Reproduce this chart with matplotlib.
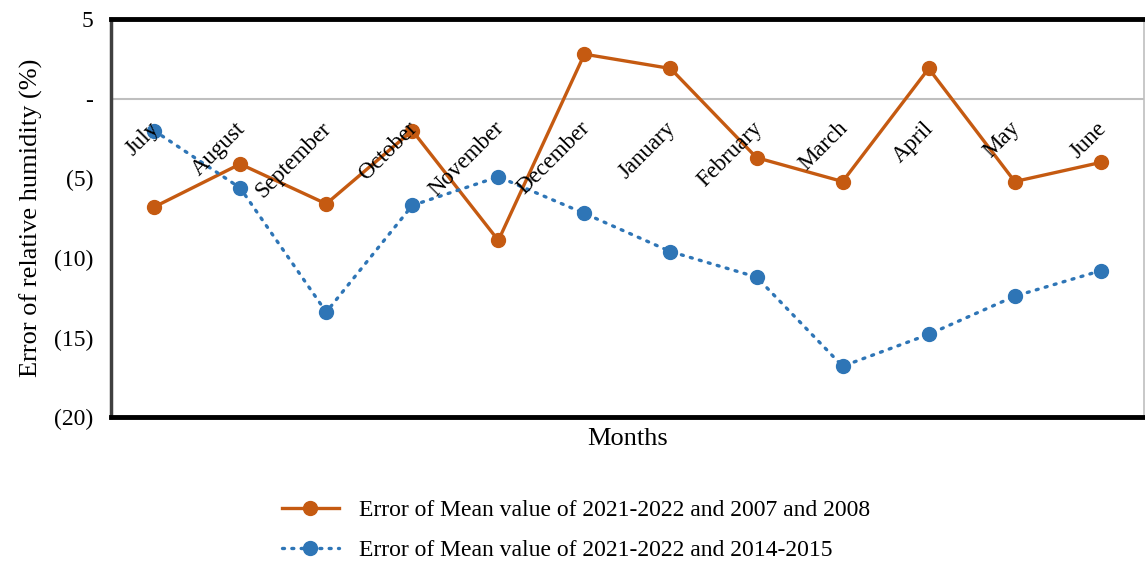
import numpy as np
import matplotlib.pyplot as plt
from matplotlib.ticker import FixedLocator, FixedFormatter

plt.rcParams['font.family'] = ['Liberation Serif', 'DejaVu Serif']

# Monthly humidity errors (%)
months = ['July', 'August', 'September', 'October', 'November', 'December',
          'January', 'February', 'March', 'April', 'May', 'June']
err_2007_2008 = [-6.8, -4.1, -6.6, -2.0, -8.9, 2.8, 1.9, -3.7, -5.2, 1.9, -5.2, -4.0]
err_2014_2015 = [-2.0, -5.6, -13.4, -6.7, -4.9, -7.2, -9.6, -11.2, -16.8, -14.8, -12.4, -10.8]

yticks = [5, 0, -5, -10, -15, -20]
ytick_labels = ['5', '-', '(5)', '(10)', '(15)', '(20)']

orange = '#C55A11'
blue = '#2E75B6'

fig = plt.figure(figsize=(11.45, 5.63), dpi=100)
ax = fig.add_axes([0.097, 0.259, 0.902, 0.707])

x = np.arange(len(months))
ax.axhline(0, color='#BFBFBF', lw=1.5, zorder=1)

ax.plot(x, err_2007_2008, color=orange, lw=2.4, marker='o', markersize=10,
        label='Error of Mean value of 2021-2022 and 2007 and 2008', zorder=3)
ax.plot(x, err_2014_2015, color=blue, lw=2.4, linestyle=(0, (0.6, 2.2)),
        dash_capstyle='round', marker='o', markersize=10,
        label='Error of Mean value of 2021-2022 and 2014-2015', zorder=3)

ax.set_xlim(-0.5, len(months) - 0.5)
ax.set_ylim(-20, 5)
ax.yaxis.set_major_locator(FixedLocator(yticks))
ax.yaxis.set_major_formatter(FixedFormatter(ytick_labels))
ax.tick_params(axis='y', length=0, pad=13, labelsize=17)
ax.set_xticks([])

# month names sit just under the zero line
for i, m in enumerate(months):
    ax.text(i - 0.06, -1.2, m, rotation=45, rotation_mode='anchor',
            ha='right', va='top', fontsize=16.5, zorder=4)

ax.set_ylabel('Error of relative humidity (%)', fontsize=19, labelpad=8)
ax.set_xlabel('Months', fontsize=19, labelpad=8)

for side in ['top', 'bottom']:
    ax.spines[side].set_linewidth(3.5)
    ax.spines[side].set_color('black')
ax.spines['left'].set_linewidth(2.5)
ax.spines['left'].set_color('#404040')
ax.spines['right'].set_linewidth(1.2)
ax.spines['right'].set_color('#BFBFBF')

fig.legend(loc='lower center', bbox_to_anchor=(0.503, -0.035), ncol=1,
           frameon=False, fontsize=17, handlelength=2.4, handletextpad=0.85,
           labelspacing=0.8)

fig.savefig('out.png', dpi=100)
